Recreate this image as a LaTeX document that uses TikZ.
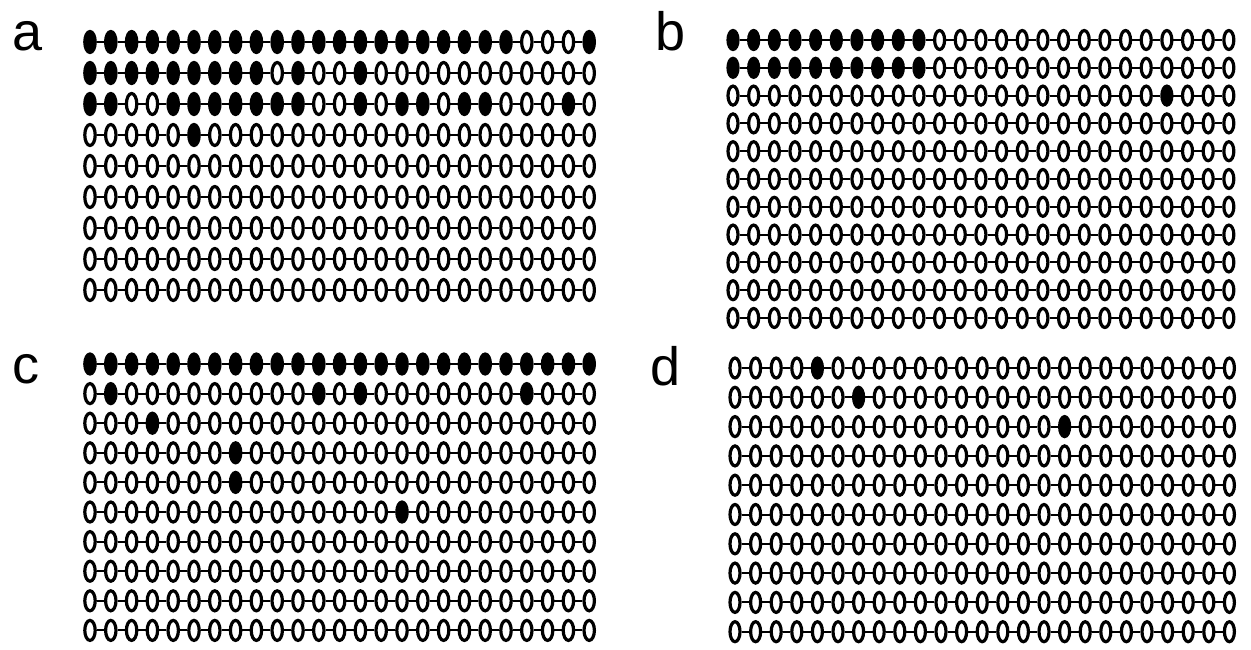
\documentclass[tikz,border=0pt]{standalone}
\usepackage{fontspec}
\setmainfont{Liberation Sans}
\usetikzlibrary{shapes.geometric}

\tikzset{
  cpg/.style={ellipse, draw, line width=1.6pt, inner sep=0pt},
  strand/.style={line width=1pt},
  plabel/.style={font=\fontsize{27pt}{27pt}\selectfont, anchor=base west, inner sep=0pt}
}

% one panel: name, x0, dx, y0, dy, oval size, filled sites per row
\makeatletter
\newcommand\cpgpanel[7]{%
  \foreach \f [count=\r] in {#7} {
    \foreach \k in {1,...,25} {
      \edef\cpgtest{\noexpand\in@{,\k,}{,\f,}}\cpgtest
      \ifin@ \def\cpgfill{black}\else \def\cpgfill{white}\fi
      \node[cpg, fill=\cpgfill, #6] (#1-\r-\k) at ({#2+(\k-1)*#3}, {#4+(\r-1)*#5}) {};
      \ifnum\k>1
        \pgfmathtruncatemacro\kprev{\k-1}
        \draw[strand] (#1-\r-\kprev) -- (#1-\r-\k);
      \fi
    }
  }
}
\makeatother

\begin{document}
\begin{tikzpicture}[x=0.5pt, y=-0.5pt]
  \useasboundingbox (0,0) rectangle (1251,649);

  % labels
  \node[plabel] (la) at (12,50)  {a};
  \node[plabel] (lb) at (655,50) {b};
  \node[plabel] (lc) at (12,383) {c};
  \node[plabel] (ld) at (650,385) {d};

  % panel a
  \cpgpanel{a}{90}{20.8}{42}{31}{minimum width=5.2pt, minimum height=10.5pt}{
    {1,2,3,4,5,6,7,8,9,10,11,12,13,14,15,16,17,18,19,20,21,25},
    {1,2,3,4,5,6,7,8,9,11,14},
    {1,2,5,6,7,8,9,10,11,14,16,17,19,20,24},
    {6},{0},{0},{0},{0},{0}}

  % panel b
  \cpgpanel{b}{733}{20.66}{40}{27.8}{minimum width=5pt, minimum height=9.5pt}{
    {1,2,3,4,5,6,7,8,9,10},
    {1,2,3,4,5,6,7,8,9,10},
    {22},{0},{0},{0},{0},{0},{0},{0},{0}}

  % panel c
  \cpgpanel{c}{90}{20.8}{364}{29.6}{minimum width=5.2pt, minimum height=10pt}{
    {1,2,3,4,5,6,7,8,9,10,11,12,13,14,15,16,17,18,19,20,21,22,23,24,25},
    {2,12,14,22},
    {4},{8},{8},{16},{0},{0},{0},{0}}

  % panel d
  \cpgpanel{d}{735}{20.6}{368}{29.3}{minimum width=5pt, minimum height=10pt}{
    {5},{7},{17},{0},{0},{0},{0},{0},{0},{0}}
\end{tikzpicture}
\end{document}
